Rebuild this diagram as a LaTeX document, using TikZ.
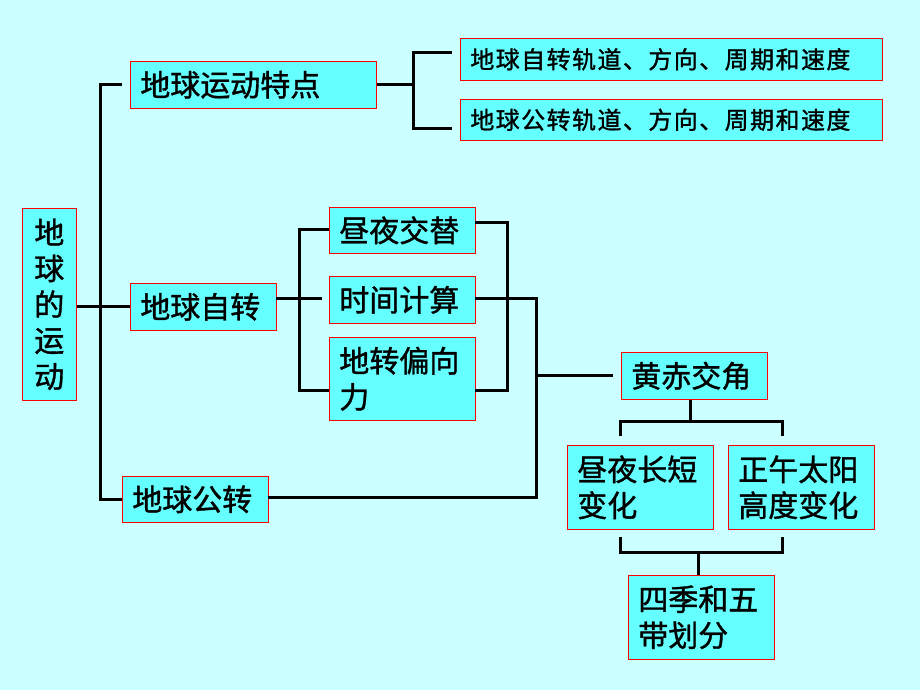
\documentclass[tikz,border=0pt]{standalone}
\usepackage{fontspec}
\setmainfont[FakeBold=1.2]{Noto Sans CJK SC}
\newfontfamily\smallcjk[LetterSpace=6,FakeBold=1.2]{Noto Sans CJK SC}
\definecolor{bgc}{HTML}{CCFFFF}
\definecolor{boxc}{HTML}{66FFFF}
\tikzset{
 box/.style={draw=red, fill=boxc, line width=0.6pt, anchor=north west, inner xsep=10pt, inner ysep=0pt, align=left, font=\fontsize{30}{36}\selectfont},
 sbox/.style={box, font=\smallcjk\fontsize{24}{28}\selectfont},
 conn/.style={line width=3pt, line join=miter}
}
\begin{document}
\begin{tikzpicture}[x=1pt,y=-1pt]
\fill[bgc] (0,0) rectangle (920,690);
\useasboundingbox (0,0) rectangle (920,690);

% boxes
\node[box, text width=34pt, align=center, minimum height=192pt] (root) at (22,208) {地\\球\\的\\运\\动};
\node[box, text width=226pt, minimum height=47pt] (tz) at (130,61) {地球运动特点};
\node[sbox, text width=402pt, minimum height=42pt] (zg) at (460,38) {地球自转轨道、方向、周期和速度};
\node[sbox, text width=402pt, minimum height=41pt] (gg) at (460,99) {地球公转轨道、方向、周期和速度};
\node[box, text width=126pt, minimum height=47pt] (zz) at (130,283) {地球自转};
\node[box, text width=126pt, minimum height=46pt] (zy) at (329,207) {昼夜交替};
\node[box, text width=126pt, minimum height=47pt] (sj) at (329,276) {时间计算};
\node[box, text width=126pt, minimum height=83pt] (px) at (329,337) {地转偏向\\力};
\node[box, text width=126pt, minimum height=47pt] (hc) at (621,352) {黄赤交角};
\node[box, text width=126pt, minimum height=84pt] (cd) at (567,445) {昼夜长短\\变化};
\node[box, text width=126pt, minimum height=84pt] (gd) at (728,445) {正午太阳\\高度变化};
\node[box, text width=126pt, minimum height=84pt] (sw) at (628,575) {四季和五\\带划分};
\node[box, text width=126pt, minimum height=46pt] (gz) at (122,476) {地球公转};

% junction coordinates
\coordinate (sp) at (100,0);
\coordinate (a1) at (122,84.5);
\coordinate (t1) at (413,84.5);
\coordinate (b1) at (452,53);
\coordinate (b2) at (452,128);
\coordinate (tb) at (413,0);
\coordinate (z0) at (276,298);
\coordinate (z1) at (322,298);
\coordinate (lv) at (299,0);
\coordinate (l1) at (329,229);
\coordinate (l2) at (329,390);
\coordinate (r1) at (475,222);
\coordinate (r2) at (475,390);
\coordinate (rv) at (507,0);
\coordinate (s0) at (475,298);
\coordinate (s1) at (536,298);
\coordinate (s2) at (536,497);
\coordinate (s3) at (536,375);
\coordinate (s4) at (613,375);
\coordinate (g0) at (268,497);
\coordinate (h0) at (690,421);
\coordinate (h1) at (620,436);
\coordinate (h2) at (782,436);
\coordinate (k1) at (620,537);
\coordinate (k2) at (782,537);
\coordinate (k0) at (698,552);

% connectors
\draw[conn] (root.east |- zz.west) -- (zz.west);
\draw[conn] (a1) -- (a1 -| sp) -- (sp |- gz.west) -- (gz.west);
\draw[conn] (tz.east |- t1) -- (t1);
\draw[conn] (b1) -- (b1 -| tb) -- (b2 -| tb) -- (b2);
\draw[conn] (z0) -- (z1);
\draw[conn] (l1) -- (l1 -| lv) -- (l2 -| lv) -- (l2);
\draw[conn] (r1) -- (r1 -| rv) -- (r2 -| rv) -- (r2);
\draw[conn] (s0) -- (s1) -- (s2) -- (g0);
\draw[conn] (s3) -- (s4);
\draw[conn] (hc.south -| h0) -- (h0);
\draw[conn] (h1) -- (h1 |- h0) -- (h2 |- h0) -- (h2);
\draw[conn] (k1) -- (k1 |- k0) -- (k2 |- k0) -- (k2);
\draw[conn] (k0) -- (sw.north -| k0);
\end{tikzpicture}
\end{document}
